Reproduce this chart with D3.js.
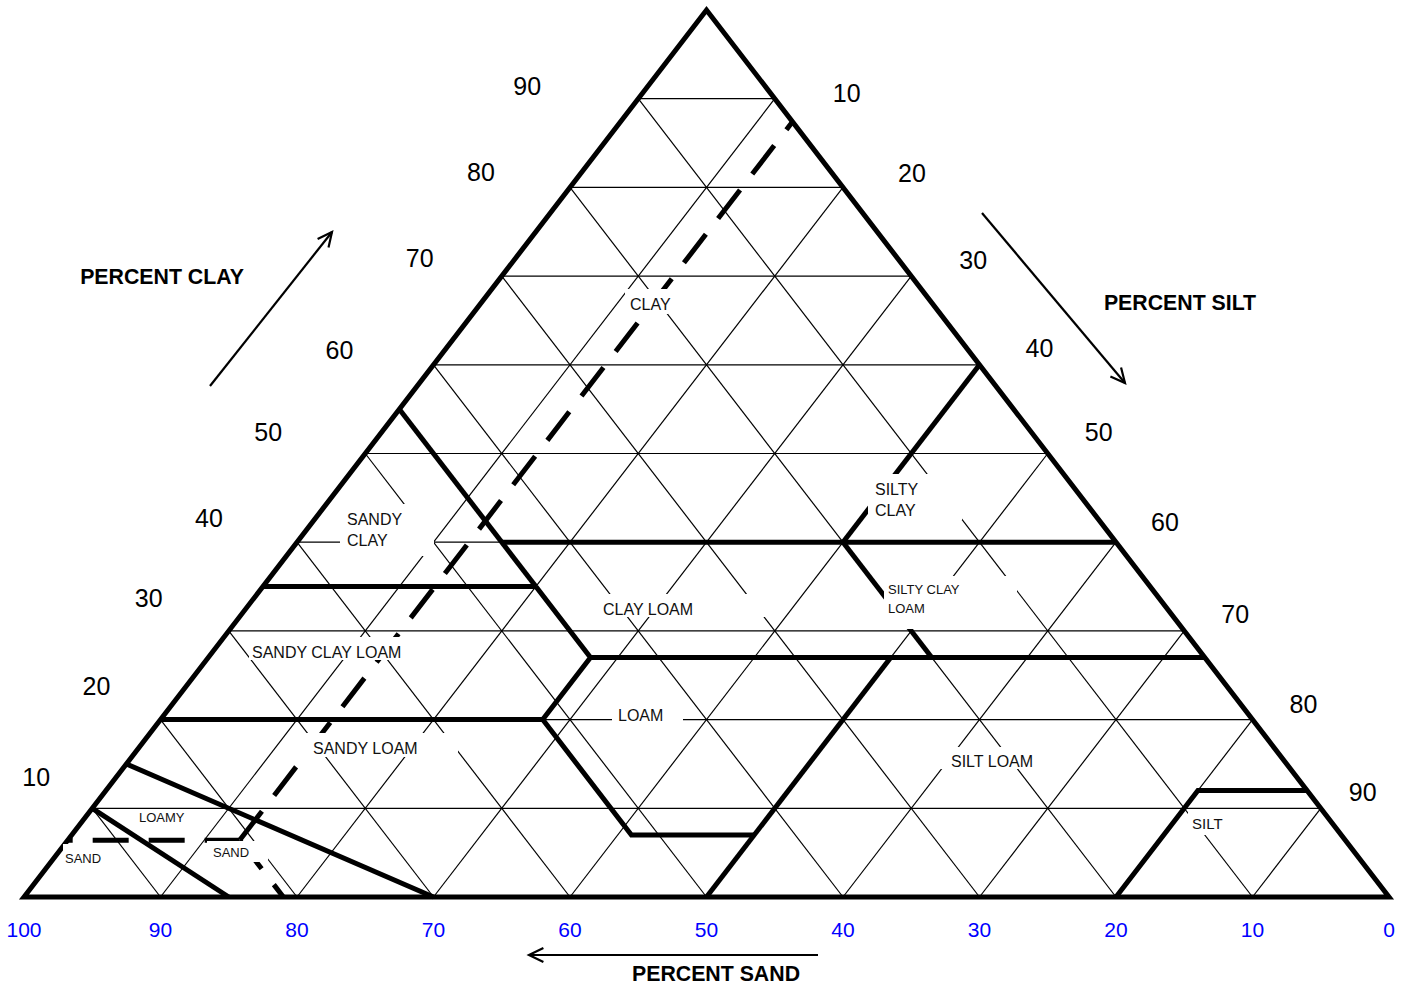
<!DOCTYPE html>
<html><head><meta charset="utf-8">
<script src="https://cdn.jsdelivr.net/npm/d3@7"></script>
<style>html,body{margin:0;padding:0;background:#fff;} svg{display:block;}</style>
</head><body>
<script>
// ---------- DATA ----------
const gridValues = [10,20,30,40,50,60,70,80,90];
const clayTicks = [90,80,70,60,50,40,30,20,10];
const siltTicks = [10,20,30,40,50,60,70,80,90];
const sandTicks = [100,90,80,70,60,50,40,30,20,10,0];

// texture class boundaries, each point is [sand %, clay %]
const boundaries = [
  [[45,55],[45,35]],
  [[45,40],[0,40]],
  [[65,35],[45,35]],
  [[45,35],[45,27],[52,20],[80,20]],
  [[45,27],[0,27]],
  [[20,40],[0,60]],
  [[20,40],[20,27]],
  [[52,20],[52,7],[43,7]],
  [[50,0],[23,27]],
  [[20,0],[8,12],[0,12]],
  [[85,15],[70,0]],
  [[90,10],[85,0]]
];
// dashed overlay line, points [sand %, clay %]
const dashedTop = [[0,87.4],[81,6.4]];
const dashedLeft = [[93.6,6.4],[81,6.4]];
const dashedDown = [[81,6.4],[81,0]];

const classNames = [
  ["CLAY"], ["SILTY","CLAY"], ["SANDY","CLAY"], ["CLAY LOAM"], ["SILTY CLAY","LOAM"],
  ["SANDY CLAY LOAM"], ["SANDY LOAM"], ["LOAM"], ["SILT LOAM"], ["SILT"],
  ["LOAMY"], ["SAND"], ["SAND"]
];

// ---------- LAYOUT ----------
const W = 1406, H = 985;
const xs = d3.scaleLinear().domain([0,100]).range([24,1389]);
const ys = d3.scaleLinear().domain([0,100]).range([897,10]);
function pt(sand, clay){ const silt = 100 - sand - clay; return [xs(silt + clay/2), ys(clay)]; }

// label layout: [left x, first line center y, line gap, font size, box x0,y0,x1,y1]
const classLayout = [
  [630,304,0,16, 625,289,668,314],
  [875,489,21,16, 868,474,962,520],
  [347,519,21,16, 340,504,434,556],
  [603,609,0,16, 597,594,770,617],
  [888,589,19,13, 884,576,1017,629],
  [252,652,0,16, 249,637,405,660],
  [313,748,0,16, 300,733,458,757],
  [618,715,0,16, 612,705,683,727],
  [951,761,0,16, 940,747,1040,769],
  [1192,824,0,15, 1188,812,1228,835],
  [139,817,0,13, 135,811,194,828],
  [65,858,0,13, 63,844,105,868],
  [213,852,0,13, 207,841,268,862]
];
const clayOffsets = [[-111,-13],[-89,-15],[-82,-18],[-94,-15],[-97,-21],[-88,-24],[-80,-33],[-64,-34],[-56,-31]];
const siltOffsets = [[72,-6],[69,-14],[62,-16],[60,-17],[51,-21],[49,-20],[51,-17],[51,-16],[42,-16]];

const svg = d3.select("body").append("svg").attr("width",W).attr("height",H);
const font = "'Liberation Sans', Arial, Helvetica, sans-serif";
const line = d3.line();

// grid
const g = svg.append("g").attr("stroke","#000").attr("stroke-width",1.2).attr("fill","none");
gridValues.forEach(v => {
  g.append("path").attr("d", line([pt(100-v, v), pt(0, v)]));
  g.append("path").attr("d", line([pt(100-v, 0), pt(0, 100-v)]));
  g.append("path").attr("d", line([pt(v, 0), pt(v, 100-v)]));
});

// bold boundaries
const b = svg.append("g").attr("stroke","#000").attr("stroke-width",5).attr("fill","none").attr("stroke-linejoin","miter");
boundaries.forEach(seg => b.append("path").attr("d", line(seg.map(p => pt(p[0],p[1])))));

// dashed overlay
const dsh = svg.append("g").attr("stroke","#000").attr("stroke-width",5).attr("fill","none").attr("stroke-dasharray","36,20");
dsh.append("path").attr("d", line(dashedTop.map(p=>pt(p[0],p[1])))).attr("stroke-dashoffset",26);
dsh.append("path").attr("d", line(dashedLeft.map(p=>pt(p[0],p[1])))).attr("stroke-dashoffset",31);
dsh.append("path").attr("d", line(dashedDown.map(p=>pt(p[0],p[1])))).attr("stroke-dashoffset",0);

// triangle border
svg.append("path").attr("d", line([pt(100,0), pt(0,100), pt(0,0)]) + "Z")
  .attr("fill","none").attr("stroke","#000").attr("stroke-width",5).attr("stroke-linejoin","miter").attr("stroke-miterlimit",10);

// label boxes + class names
classNames.forEach((lines, i) => {
  const L = classLayout[i];
  svg.append("rect").attr("x",L[4]).attr("y",L[5]).attr("width",L[6]-L[4]).attr("height",L[7]-L[5]).attr("fill","#fff");
});
classNames.forEach((lines, i) => {
  const L = classLayout[i];
  lines.forEach((t, j) => {
    svg.append("text").attr("x",L[0]).attr("y",L[1] + j*L[2] + 0.358*L[3])
      .attr("font-family",font).attr("font-size",L[3]).attr("fill","#111").text(t);
  });
});

// tick labels
clayTicks.forEach((c,i) => {
  const p = pt(100-c, c);
  svg.append("text").attr("x",p[0]+clayOffsets[i][0]).attr("y",p[1]+clayOffsets[i][1]+0.358*25)
    .attr("text-anchor","middle").attr("font-family",font).attr("font-size",25).attr("fill","#000").text(c);
});
siltTicks.forEach((s,i) => {
  const p = pt(0, 100-s);
  svg.append("text").attr("x",p[0]+siltOffsets[i][0]).attr("y",p[1]+siltOffsets[i][1]+0.358*25)
    .attr("text-anchor","middle").attr("font-family",font).attr("font-size",25).attr("fill","#000").text(s);
});
sandTicks.forEach(s => {
  const p = pt(s, 0);
  svg.append("text").attr("x",p[0]).attr("y",929+0.358*21)
    .attr("text-anchor","middle").attr("font-family",font).attr("font-size",21).attr("fill","#0000ff").text(s);
});

// axis titles
[["PERCENT CLAY",162,276],["PERCENT SILT",1180,302],["PERCENT SAND",716,973]].forEach(d => {
  svg.append("text").attr("x",d[1]).attr("y",d[2]+0.358*21.3).attr("text-anchor","middle")
    .attr("font-family",font).attr("font-weight","bold").attr("font-size",21.3).attr("fill","#000").text(d[0]);
});

// arrows
function arrow(x1,y1,x2,y2){
  const a = Math.atan2(y2-y1, x2-x1), L = 16, s = 0.45;
  svg.append("path").attr("d", `M${x1},${y1}L${x2},${y2}`).attr("stroke","#000").attr("stroke-width",2.2).attr("fill","none");
  svg.append("path").attr("d", `M${x2-L*Math.cos(a-s)},${y2-L*Math.sin(a-s)}L${x2},${y2}L${x2-L*Math.cos(a+s)},${y2-L*Math.sin(a+s)}`)
    .attr("stroke","#000").attr("stroke-width",2.2).attr("fill","none").attr("stroke-linejoin","miter");
}
arrow(210,386,332,232);
arrow(982,213,1125,383);
arrow(818,955,529,955);
</script>
</body></html>
